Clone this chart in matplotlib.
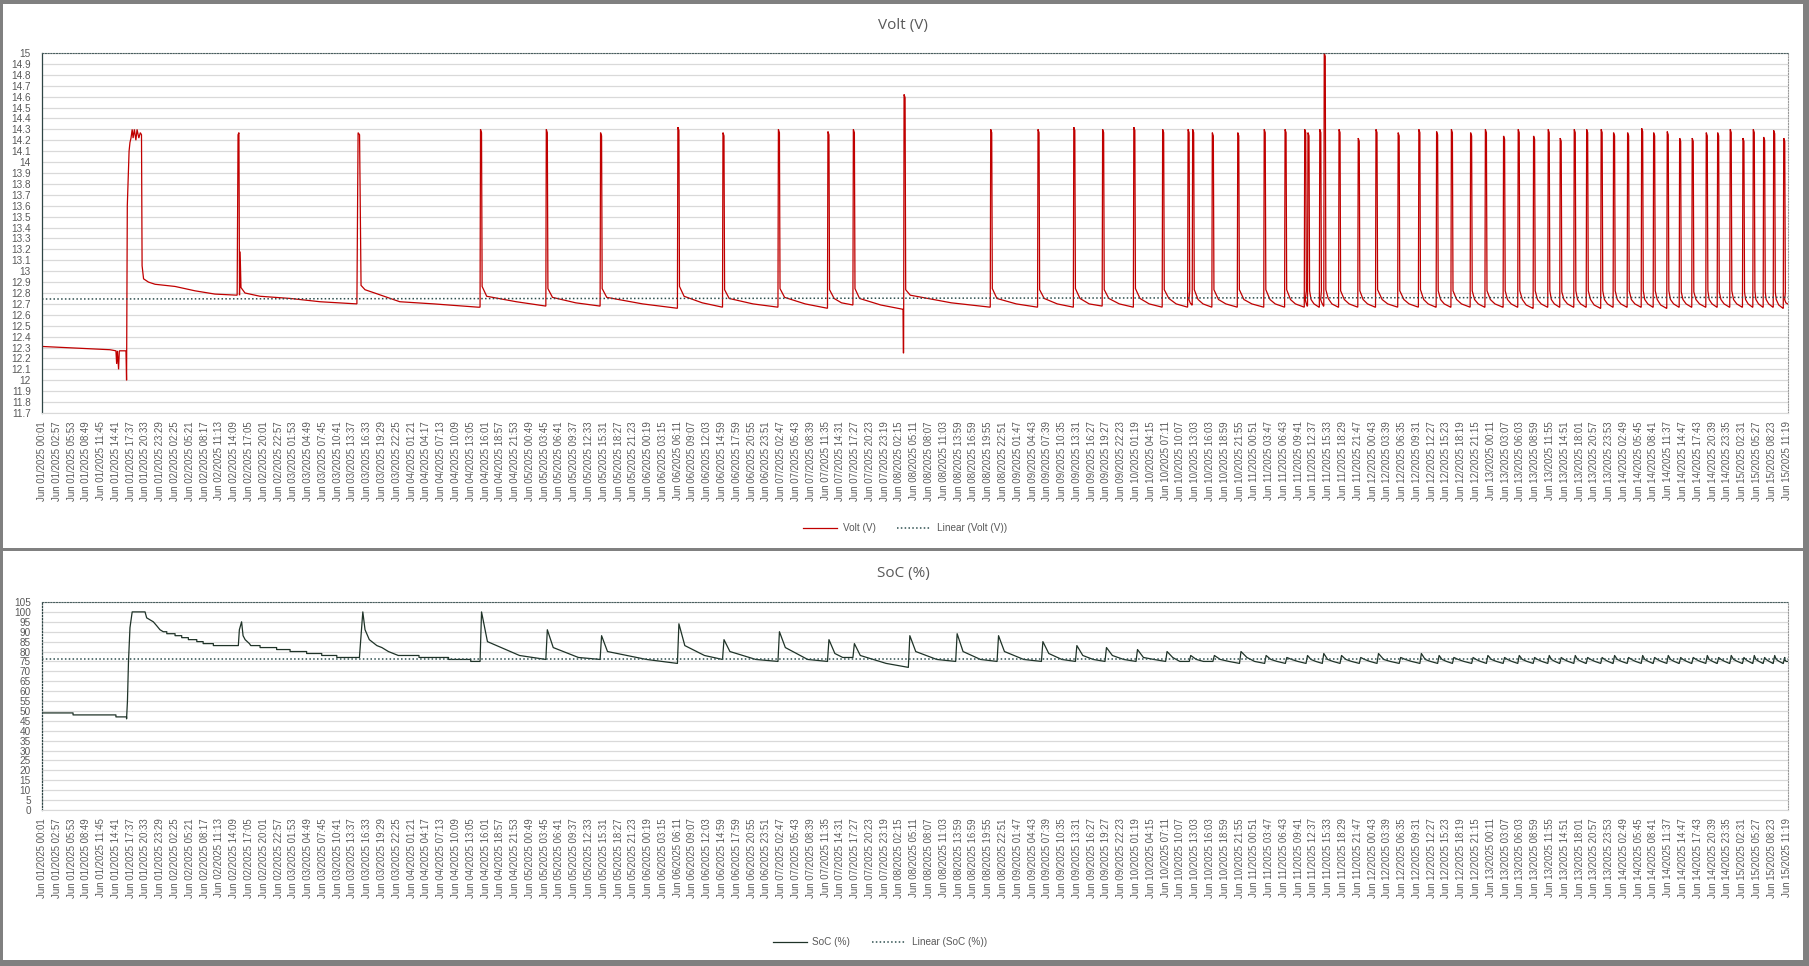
import numpy as np
import matplotlib
matplotlib.use("Agg")
import matplotlib.pyplot as plt
from matplotlib.lines import Line2D
from matplotlib.patches import Rectangle

# ---------------- tick labels (category axis, one label every 176 samples) ----------------
label_days = ["01"] * 9 + ["02"] * 8 + ["03"] * 8 + ["04"] * 8 + ["05"] * 8 + ["06"] * 9 + ["07"] * 8 + \
             ["08"] * 8 + ["09"] * 8 + ["10"] * 8 + ["11"] * 8 + ["12"] * 8 + ["13"] * 9 + ["14"] * 8 + ["15"] * 4
label_times = [
    "00:01", "02:57", "05:53", "08:49", "11:45", "14:41", "17:37", "20:33", "23:29",
    "02:25", "05:21", "08:17", "11:13", "14:09", "17:05", "20:01", "22:57",
    "01:53", "04:49", "07:45", "10:41", "13:37", "16:33", "19:29", "22:25",
    "01:21", "04:17", "07:13", "10:09", "13:05", "16:01", "18:57", "21:53",
    "00:49", "03:45", "06:41", "09:37", "12:33", "15:31", "18:27", "21:23",
    "00:19", "03:15", "06:11", "09:07", "12:03", "14:59", "17:59", "20:55", "23:51",
    "02:47", "05:43", "08:39", "11:35", "14:31", "17:27", "20:23", "23:19",
    "02:15", "05:11", "08:07", "11:03", "13:59", "16:59", "19:55", "22:51",
    "01:47", "04:43", "07:39", "10:35", "13:31", "16:27", "19:27", "22:23",
    "01:19", "04:15", "07:11", "10:07", "13:03", "16:03", "18:59", "21:55",
    "00:51", "03:47", "06:43", "09:41", "12:37", "15:33", "18:29", "21:47",
    "00:43", "03:39", "06:35", "09:31", "12:27", "15:23", "18:19", "21:15",
    "00:11", "03:07", "06:03", "08:59", "11:55", "14:51", "18:01", "20:57", "23:53",
    "02:49", "05:45", "08:41", "11:37", "14:47", "17:43", "20:39", "23:35",
    "02:31", "05:27", "08:23", "11:19",
]
tick_labels = [f"Jun {d}/2025 {t}" for d, t in zip(label_days, label_times)]
SAMPLES_PER_LABEL = 176

# ---------------- Volt (V): explicit start segment (position in label units, value) ----------------
volt_start_x = [0, 1.5, 3.0, 4.6, 5.0, 5.05, 5.1, 5.18, 5.23, 5.68, 5.72, 5.77, 5.89, 5.95, 6.02, 6.1,
                6.16, 6.25, 6.35, 6.43, 6.55, 6.65, 6.73, 6.77, 6.87, 7.2, 7.65, 9.0, 10.35, 11.7, 13.2,
                13.26, 13.32, 13.36, 13.40, 13.46, 13.73, 14.75, 16.8, 18.8, 21.3,
                21.38, 21.48, 21.58, 21.85, 22.5, 24.2, 26.5, 29.5]
volt_start_v = [12.31, 12.30, 12.29, 12.28, 12.27, 12.15, 12.27, 12.10, 12.27, 12.27, 12.00, 13.6, 14.1, 14.18,
                14.22, 14.3, 14.22, 14.3, 14.2, 14.3, 14.22, 14.27, 14.25, 13.05, 12.93, 12.90, 12.88, 12.86,
                12.82, 12.79, 12.78,
                14.25, 14.27, 12.78, 13.18, 12.85, 12.80, 12.77, 12.75, 12.72, 12.70,
                14.27, 14.25, 12.87, 12.83, 12.80, 12.72, 12.70, 12.67]

# Volt charge cycles: spike position, peak, level after drop, level shortly after, later level, level before next spike
volt_cyc_x = [29.63, 34.08, 37.75, 42.98, 46.03, 49.78, 53.13, 54.85, 58.28, 64.14, 67.34, 69.76, 71.71,
              73.82, 75.77, 77.49, 77.80, 79.13, 80.85, 82.64, 84.05, 85.38, 85.60, 86.40, 86.70, 87.70,
              89.0, 90.2, 91.7, 93.1, 94.3, 95.3, 96.6, 97.6, 98.83, 99.82, 100.86, 101.85, 102.66,
              103.61, 104.45, 105.43, 106.27, 107.22, 108.17, 108.98, 109.9, 110.74, 111.59, 112.54,
              113.31, 114.16, 115.02, 115.72, 116.42, 117.1, 117.78]
volt_cyc_peak = [14.3, 14.3, 14.27, 14.32, 14.27, 14.3, 14.28, 14.3, 14.62, 14.3, 14.3, 14.32, 14.3,
                 14.32, 14.3, 14.3, 14.3, 14.27, 14.27, 14.3, 14.3, 14.3, 14.27, 14.3, 15.0, 14.3,
                 14.22, 14.3, 14.27, 14.3, 14.28, 14.3, 14.27, 14.3, 14.24, 14.3, 14.24, 14.3, 14.22,
                 14.3, 14.3, 14.3, 14.27, 14.27, 14.31, 14.27, 14.28, 14.22, 14.22, 14.27,
                 14.27, 14.3, 14.22, 14.3, 14.23, 14.29, 14.22]
volt_cyc_drop = [12.86, 12.84, 12.84, 12.86, 12.83, 12.84, 12.83, 12.84, 12.83, 12.84, 12.83, 12.84, 12.83,
                 12.84, 12.83, 12.82, 12.83, 12.83, 12.83, 12.83, 12.83, 12.82, 12.82, 12.82, 12.83, 12.82,
                 12.82, 12.83, 12.82, 12.83, 12.82, 12.82, 12.82, 12.82, 12.82, 12.82, 12.82, 12.82, 12.81,
                 12.82, 12.82, 12.82, 12.82, 12.82, 12.82, 12.82, 12.82, 12.81, 12.81, 12.82,
                 12.81, 12.82, 12.81, 12.82, 12.81, 12.81, 12.81]
volt_cyc_knee = [12.77, 12.76, 12.76, 12.77, 12.75, 12.76, 12.75, 12.75, 12.78, 12.75, 12.75, 12.75, 12.75,
                 12.75, 12.75, 12.74, 12.74, 12.74, 12.74, 12.74, 12.74, 12.74, 12.74, 12.74, 12.75, 12.74,
                 12.74, 12.74, 12.74, 12.74, 12.74, 12.74, 12.74, 12.74, 12.74, 12.74, 12.74, 12.74, 12.74,
                 12.74, 12.74, 12.74, 12.74, 12.74, 12.74, 12.74, 12.74, 12.74, 12.74, 12.74,
                 12.74, 12.74, 12.74, 12.74, 12.74, 12.74, 12.74]
volt_cyc_late = [12.72, 12.71, 12.70, 12.71, 12.70, 12.70, 12.71, 12.69, 12.71, 12.70, 12.70, 12.70, 12.70,
                 12.70, 12.70, 12.71, 12.70, 12.70, 12.70, 12.70, 12.70, 12.71, 12.70, 12.71, 12.70, 12.70,
                 12.70, 12.70, 12.70, 12.70, 12.70, 12.70, 12.70, 12.70, 12.70, 12.69, 12.70, 12.70, 12.70,
                 12.70, 12.69, 12.70, 12.70, 12.70, 12.70, 12.69, 12.70, 12.70, 12.70, 12.70,
                 12.70, 12.70, 12.70, 12.70, 12.70, 12.69, 12.71]
volt_cyc_end = [12.68, 12.68, 12.66, 12.67, 12.67, 12.66, 12.69, 12.65, 12.67, 12.67, 12.67, 12.68, 12.67,
                12.67, 12.67, 12.69, 12.67, 12.67, 12.67, 12.67, 12.67, 12.68, 12.67, 12.68, 12.67, 12.67,
                12.67, 12.67, 12.67, 12.67, 12.67, 12.67, 12.67, 12.67, 12.67, 12.66, 12.67, 12.67, 12.67,
                12.67, 12.66, 12.67, 12.67, 12.67, 12.67, 12.66, 12.67, 12.67, 12.67, 12.67,
                12.67, 12.67, 12.67, 12.67, 12.67, 12.66, 12.70]
# one downward glitch just before a spike
volt_dip_x = [58.28]
volt_dip_v = [12.25]
volt_end_x = 118.1
volt_trend = [12.745, 12.76]

# ---------------- SoC (%) ----------------
soc_start_x = [0, 2.1, 2.1, 5.0, 5.0, 5.72, 5.72, 5.78, 5.85, 5.95, 6.1, 6.97, 7.08, 7.3, 7.53, 7.76, 7.98,
               8.2, 8.44, 8.44, 9.0, 9.0, 9.45, 9.45, 9.9, 9.9, 10.47, 10.47, 10.9, 10.9, 11.59, 11.59,
               13.28, 13.35, 13.5, 13.6, 13.74, 14.03, 14.12, 14.75, 14.75, 15.87, 15.87, 16.78, 16.78,
               17.9, 17.9, 18.92, 18.92, 19.94, 19.94, 21.47,
               21.7, 21.85, 22.14, 22.65, 22.99, 23.43, 23.77, 24.1, 25.5, 25.5, 27.5, 27.5, 29.0, 29.0, 29.55]
soc_start_v = [49, 49, 48, 48, 47, 47, 46, 55, 75, 92, 100, 100, 97, 96, 95, 93, 91,
               90, 90, 89, 89, 88, 88, 87, 87, 86, 86, 85, 85, 84, 84, 83,
               83, 91, 95, 88, 86, 84, 83, 83, 82, 82, 81, 81, 80,
               80, 79, 79, 78, 78, 77, 77,
               100, 91, 86, 83, 82, 80, 79, 78, 78, 77, 77, 76, 76, 75, 75]

soc_cyc_x = [29.63, 34.08, 37.75, 42.98, 46.03, 49.78, 53.13, 54.85, 58.6, 61.8, 64.6, 67.6, 69.9, 71.9,
             74.0, 76.0, 77.6, 79.2, 81.0, 82.7, 84.1, 85.5, 86.6, 87.8, 89.1, 90.3, 91.8, 93.2, 94.4,
             95.4, 96.7, 97.7, 98.83, 99.82, 100.86, 101.85, 102.66, 103.61, 104.45, 105.43, 106.27,
             107.22, 108.17, 108.98, 109.9, 110.74, 111.59, 112.54, 113.31, 114.16, 115.02, 115.72,
             116.42, 117.1, 117.78]
soc_cyc_peak = [100, 91, 88, 94, 86, 90, 86, 84, 88, 89, 88, 85, 83, 82,
                81, 80, 78, 78, 80, 78, 77, 78, 79, 78, 77, 79, 77, 79, 78,
                77, 77, 78, 77, 78, 77, 78, 77, 78, 77, 77, 78,
                77, 78, 77, 78, 77, 77, 78, 77, 78, 77, 78,
                77, 78, 77]
soc_cyc_mid = [85, 82, 80, 83, 80, 82, 79, 78, 80, 80, 80, 79, 78, 78,
               77, 77, 76, 76, 77, 76, 76, 76, 76, 76, 76, 76, 76, 76, 76,
               76, 76, 76, 76, 76, 76, 76, 76, 76, 76, 76, 76,
               76, 76, 76, 76, 76, 76, 76, 76, 76, 76, 76,
               76, 76, 76]
soc_cyc_late = [78, 77, 76, 78, 76, 76, 77, 74, 76, 76, 76, 76, 76, 76,
                76, 75, 75, 75, 75, 75, 75, 75, 75, 75, 75, 75, 75, 75, 75,
                75, 75, 75, 75, 75, 75, 75, 75, 75, 75, 75, 75,
                75, 75, 75, 75, 75, 75, 75, 75, 75, 75, 75,
                75, 75, 75]
soc_cyc_end = [76, 76, 74, 76, 75, 75, 77, 72, 75, 75, 75, 75, 75, 75,
               75, 75, 75, 74, 74, 74, 74, 74, 74, 74, 74, 74, 74, 74, 74,
               74, 74, 74, 74, 74, 74, 74, 74, 74, 74, 74, 74,
               74, 74, 74, 74, 74, 74, 74, 74, 74, 74, 74,
               74, 74, 75]
soc_end_x = 118.1
soc_trend = [76.0, 76.0]


def build_volt():
    xs, vs = list(volt_start_x), list(volt_start_v)
    dips = dict(zip(volt_dip_x, volt_dip_v))
    n = len(volt_cyc_x)
    for i in range(n):
        x0 = volt_cyc_x[i]
        x1 = volt_cyc_x[i + 1] if i + 1 < n else volt_end_x
        L = x1 - x0
        if x0 in dips:
            xs += [x0 - 0.04, x0 - 0.02]
            vs += [vs[-1], dips[x0]]
        xs += [x0, x0 + 0.03, x0 + 0.10, x0 + 0.14, x0 + min(0.45, 0.3 * L), x0 + 0.55 * L, x1 - 0.02]
        vs += [vs[-1], volt_cyc_peak[i], volt_cyc_peak[i] - 0.03, volt_cyc_drop[i],
               volt_cyc_knee[i], volt_cyc_late[i], volt_cyc_end[i]]
    return np.array(xs) * SAMPLES_PER_LABEL, np.array(vs)


def build_soc():
    xs, vs = list(soc_start_x), list(soc_start_v)
    n = len(soc_cyc_x)
    for i in range(n):
        x0 = soc_cyc_x[i]
        x1 = soc_cyc_x[i + 1] if i + 1 < n else soc_end_x
        L = x1 - x0
        xs += [x0, x0 + 0.1, x0 + min(0.5, 0.3 * L), x0 + 0.6 * L, x1 - 0.02]
        vs += [vs[-1], soc_cyc_peak[i], soc_cyc_mid[i], soc_cyc_late[i], soc_cyc_end[i]]
    return np.array(xs) * SAMPLES_PER_LABEL, np.array(vs)


vx, vv = build_volt()
sx, sv = build_soc()
xmax = volt_end_x * SAMPLES_PER_LABEL
tick_pos = np.arange(len(tick_labels)) * SAMPLES_PER_LABEL

# ---------------- figure ----------------
W, H = 1809, 966
fig = plt.figure(figsize=(W / 100, H / 100), dpi=100)
fig.patch.set_facecolor("white")
FONT = "Liberation Sans"
TXT = "#595959"
GRID = "#d9d9d9"


def fx(px):
    return px / W


def fy(py):
    return 1 - py / H


def style_axes(ax, ylim, yticks, left_dotted):
    ax.set_xlim(0, xmax)
    ax.set_ylim(*ylim)
    ax.set_yticks(yticks)
    ax.set_yticklabels([f"{t:g}" for t in yticks], fontsize=7.2, color=TXT, family=FONT)
    ax.set_xticks(tick_pos)
    ax.set_xticklabels(tick_labels, rotation=90, fontsize=6.9, color=TXT, family=FONT)
    ax.tick_params(axis="both", length=0)
    ax.tick_params(axis="y", pad=8)
    ax.tick_params(axis="x", pad=6)
    ax.grid(axis="y", color=GRID, lw=0.9)
    ax.set_axisbelow(True)
    ax.spines["bottom"].set_color(GRID)
    ax.spines["top"].set_color("#4a5f5f")
    ax.spines["top"].set_linestyle((0, (1, 1.5)))
    ax.spines["top"].set_linewidth(0.8)
    ax.spines["right"].set_color("#9a9a9a")
    ax.spines["right"].set_linestyle((0, (1, 1.5)))
    ax.spines["right"].set_linewidth(0.8)
    ax.spines["left"].set_color("#2f4545")
    ax.spines["left"].set_linewidth(0.9)
    if left_dotted:
        ax.spines["left"].set_linestyle((0, (1, 1.5)))


# top: Volt
ax1 = fig.add_axes([fx(42), fy(413), fx(1788 - 42), (413 - 53) / H])
ax1.plot(vx, vv, color="#c00000", lw=0.9, solid_joinstyle="miter")
ax1.plot([0, xmax], volt_trend, color="#2f4f4f", lw=1.1, ls=(0, (1, 1.5)))
style_axes(ax1, (11.7, 15.0), np.round(np.arange(117, 151) / 10, 1), False)

# bottom: SoC
ax2 = fig.add_axes([fx(42), fy(810), fx(1788 - 42), (810 - 602) / H])
ax2.plot(sx, sv, color="#1f3328", lw=0.9)
ax2.plot([0, xmax], soc_trend, color="#2f4f4f", lw=1.1, ls=(0, (1, 1.5)))
style_axes(ax2, (0, 105), np.arange(0, 106, 5), True)

# titles
fig.text(fx(903), fy(26), "Volt (V)", ha="center", va="center", fontsize=11, color=TXT, family="Open Sans")
fig.text(fx(903), fy(573), "SoC (%)", ha="center", va="center", fontsize=11, color=TXT, family="Open Sans")

# legends
h1 = [Line2D([], [], color="#c00000", lw=0.9), Line2D([], [], color="#2f4f4f", lw=1.1, ls=(0, (1, 1.5)))]
fig.legend(h1, ["Volt (V)", "Linear (Volt (V))"], loc="center", bbox_to_anchor=(fx(905), fy(528)),
           ncol=2, frameon=False, prop={"family": FONT, "size": 7.2}, labelcolor=TXT,
           handlelength=3.4, columnspacing=2.2, handletextpad=0.6)
h2 = [Line2D([], [], color="#1f3328", lw=0.9), Line2D([], [], color="#2f4f4f", lw=1.1, ls=(0, (1, 1.5)))]
fig.legend(h2, ["SoC (%)", "Linear (SoC (%))"], loc="center", bbox_to_anchor=(fx(880), fy(942)),
           ncol=2, frameon=False, prop={"family": FONT, "size": 7.2}, labelcolor=TXT,
           handlelength=3.4, columnspacing=2.2, handletextpad=0.6)

# chart frames (gray borders)
BORDER = "#808080"
for (x0, y0, w, h) in [(0, 0, W, 4), (0, 0, 3, H), (W - 6, 0, 6, H), (0, H - 6, W, 6), (0, 548, W, 3)]:
    fig.add_artist(Rectangle((fx(x0), fy(y0 + h)), w / W, h / H, transform=fig.transFigure,
                             facecolor=BORDER, edgecolor="none", zorder=10))

fig.savefig("out.png", dpi=100, facecolor="white")
